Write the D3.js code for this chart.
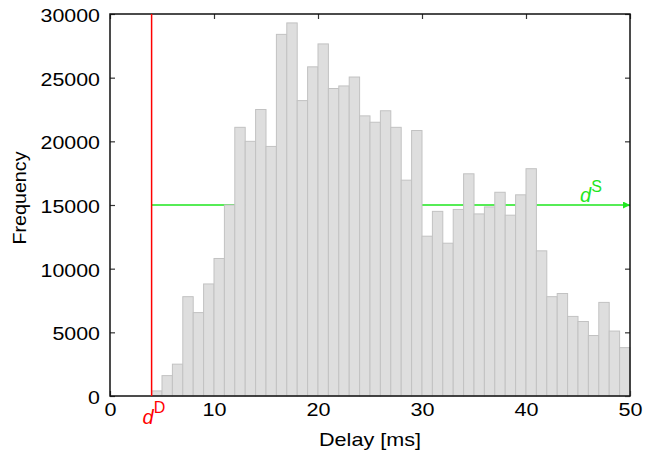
<!DOCTYPE html>
<html>
<head>
<meta charset="utf-8">
<script src="https://cdn.jsdelivr.net/npm/d3@7"></script>
<style>
  body { margin: 0; background: #fff; }
  text { font-family: "Liberation Sans", Arial, sans-serif; }
</style>
</head>
<body>
<script>
var w = 646,
    h = 453,
    margin = {top: 14, right: 16, bottom: 57, left: 110};

// histogram bins (1 ms wide), left edges
var binStarts = [4, 5, 6, 7, 8, 9, 10, 11, 12, 13, 14, 15, 16, 17, 18, 19, 20, 21, 22, 23, 24,
                 25, 26, 27, 28, 29, 30, 31, 32, 33, 34, 35, 36, 37, 38, 39, 40, 41, 42, 43,
                 44, 45, 46, 47, 48, 49];
var counts = [400, 1600, 2500, 7800, 6550, 8800, 10800, 15000, 21100, 20000, 22500, 19600,
              28400, 29300, 23200, 25850, 27650, 24150, 24350, 25050, 22000, 21500, 22400,
              21100, 16950, 20850, 12550, 14500, 12000, 14650, 17450, 14300, 14850, 16000,
              14200, 15800, 17850, 11400, 7800, 8050, 6250, 5850, 4750, 7350, 5100, 3800];

var xTicks = [0, 10, 20, 30, 40, 50];
var yTicks = [0, 5000, 10000, 15000, 20000, 25000, 30000];

// markers
var dD = 4;        // vertical red line
var dS = 15000;    // horizontal green arrow level

var svg = d3.select("body").append("svg")
  .attr("width", w)
  .attr("height", h);

var x = d3.scaleLinear().domain([0, 50]).range([margin.left, w - margin.right]);
var y = d3.scaleLinear().domain([0, 30000]).range([h - margin.bottom, margin.top]);

var x0 = x.range()[0], x1 = x.range()[1],
    y0 = y.range()[0], y1 = y.range()[1];

// axes (ticks pointing inward)
var bottomAxis = svg.append("g")
  .attr("transform", "translate(0," + y0 + ")")
  .call(d3.axisBottom(x).tickValues(xTicks).tickSize(-5).tickPadding(7).tickFormat(d3.format("d")));
var leftAxis = svg.append("g")
  .attr("transform", "translate(" + x0 + ",0)")
  .call(d3.axisLeft(y).tickValues(yTicks).tickSize(-5).tickPadding(10).tickFormat(d3.format("d")));
svg.append("g")
  .attr("transform", "translate(0," + y1 + ")")
  .call(d3.axisTop(x).tickValues(xTicks).tickSize(-5).tickFormat(""));
svg.append("g")
  .attr("transform", "translate(" + x1 + ",0)")
  .call(d3.axisRight(y).tickValues(yTicks).tickSize(-5).tickFormat(""));

svg.selectAll(".domain").remove();
svg.selectAll(".tick line").attr("stroke", "#333").attr("stroke-width", 1.2);

bottomAxis.selectAll("text")
  .attr("font-size", 19).attr("fill", "#000")
  .attr("textLength", function(d) { return String(d).length * 12; })
  .attr("lengthAdjust", "spacingAndGlyphs");
leftAxis.selectAll("text")
  .attr("font-size", 18.5).attr("fill", "#000").attr("dy", "0.4em")
  .attr("textLength", function(d) { return String(d).length * 11.9; })
  .attr("lengthAdjust", "spacingAndGlyphs");

// green dS arrow (drawn under the bars)
var green = "#1ee61e";
svg.append("defs").append("marker")
  .attr("id", "arrow")
  .attr("viewBox", "0 0 10 10")
  .attr("refX", 10).attr("refY", 5)
  .attr("markerWidth", 9).attr("markerHeight", 7)
  .attr("markerUnits", "userSpaceOnUse")
  .attr("orient", "auto")
  .append("path")
  .attr("d", "M0,0L10,5L0,10z")
  .attr("fill", green);

svg.append("line")
  .attr("x1", x(dD)).attr("x2", x1)
  .attr("y1", y(dS)).attr("y2", y(dS))
  .attr("stroke", green)
  .attr("stroke-width", 1.5)
  .attr("marker-end", "url(#arrow)");

// bars
svg.append("g").selectAll("rect")
  .data(binStarts)
  .enter().append("rect")
  .attr("x", function(d) { return x(d); })
  .attr("y", function(d, i) { return y(counts[i]); })
  .attr("width", function(d) { return x(d + 1) - x(d); })
  .attr("height", function(d, i) { return y0 - y(counts[i]); })
  .attr("fill", "#dedede")
  .attr("stroke", "#c2c2c2")
  .attr("stroke-width", 1);

// frame
svg.append("rect")
  .attr("x", x0).attr("y", y1)
  .attr("width", x1 - x0).attr("height", y0 - y1)
  .attr("fill", "none")
  .attr("stroke", "#111")
  .attr("stroke-width", 1.5);

// red dD line
svg.append("line")
  .attr("x1", x(dD)).attr("x2", x(dD))
  .attr("y1", y1).attr("y2", y0)
  .attr("stroke", "#ff0000")
  .attr("stroke-width", 1.5);

var dLabel = svg.append("text")
  .attr("x", x(dD) - 9).attr("y", y0 + 28)
  .attr("fill", "#ff0000")
  .attr("font-size", 20);
dLabel.append("tspan").attr("font-style", "italic").text("d");
dLabel.append("tspan").attr("font-size", 16).attr("dy", -11).attr("dx", 0).text("D");

var sLabel = svg.append("text")
  .attr("x", 580).attr("y", y(dS) - 3)
  .attr("fill", green)
  .attr("font-size", 20);
sLabel.append("tspan").attr("font-style", "italic").text("d");
sLabel.append("tspan").attr("font-size", 16).attr("dy", -10).attr("dx", 0).text("S");

// axis titles
svg.append("text")
  .attr("x", (x0 + x1) / 2).attr("y", 446)
  .attr("text-anchor", "middle")
  .attr("font-size", 18.5)
  .attr("textLength", 102).attr("lengthAdjust", "spacingAndGlyphs")
  .text("Delay [ms]");

svg.append("text")
  .attr("transform", "translate(26,198) rotate(-90)")
  .attr("text-anchor", "middle")
  .attr("font-size", 18.5)
  .attr("textLength", 93).attr("lengthAdjust", "spacingAndGlyphs")
  .text("Frequency");
</script>
</body>
</html>
